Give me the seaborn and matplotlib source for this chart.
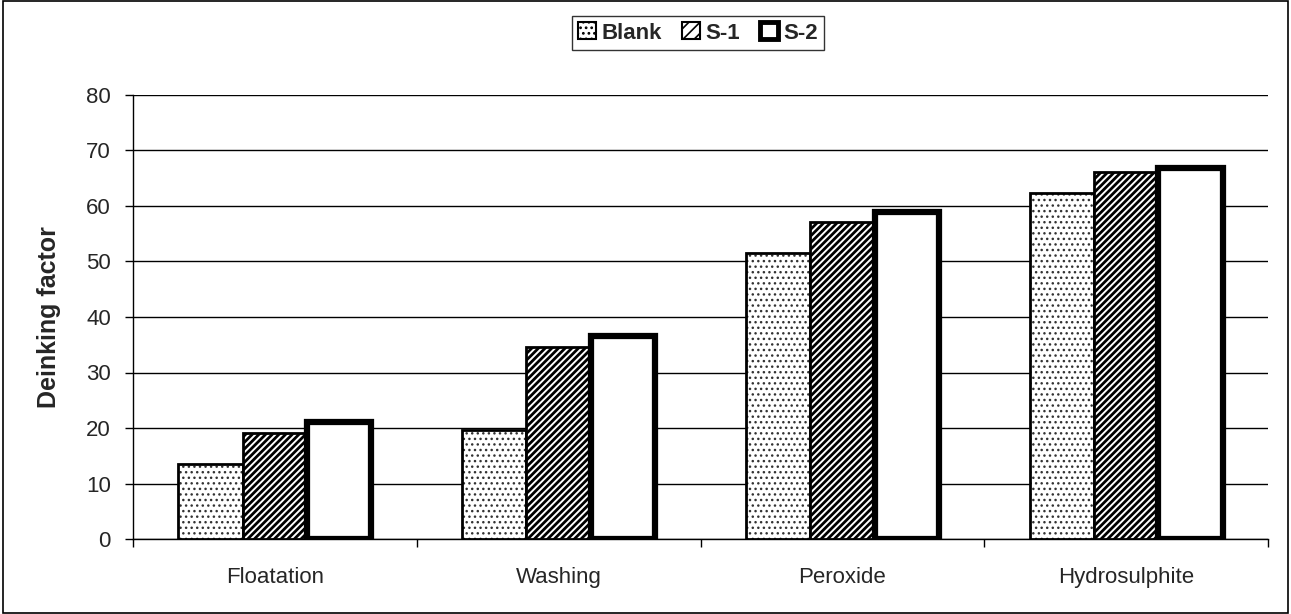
import matplotlib
matplotlib.use("Agg")
import matplotlib.pyplot as plt
import seaborn as sns
import pandas as pd
from matplotlib.patches import Rectangle

sns.set_theme(style="white")
plt.rcParams['font.family'] = ['Liberation Sans', 'DejaVu Sans']
plt.rcParams['hatch.linewidth'] = 2.0

stages = ["Floatation", "Washing", "Peroxide", "Hydrosulphite"]
series = ["Blank", "S-1", "S-2"]
blank = [13.5, 19.6, 51.5, 62.3]
s1 = [19.1, 34.6, 57.1, 66.1]
s2 = [21.1, 36.6, 58.9, 66.8]

df = pd.DataFrame({
    "stage": stages * 3,
    "series": [s for s in series for _ in stages],
    "value": blank + s1 + s2,
})

fig = plt.figure(figsize=(12.91, 6.14), dpi=100)
ax = fig.add_axes([133 / 1291, 1 - 539 / 614, (1268 - 133) / 1291, (539 - 95) / 614])

sns.barplot(data=df, x="stage", y="value", hue="series", order=stages,
            hue_order=series, palette=["white"] * 3, width=0.68, gap=0,
            edgecolor="black", linewidth=2, ax=ax, legend=False, zorder=3)

styles = {
    "Blank": dict(hatch="...", lw=2.0, hatch_color=(0.2, 0.2, 0.2, 1.0), hlw=1.0),
    "S-1": dict(hatch="/////", lw=2.0, hatch_color=(0, 0, 0, 1.0), hlw=2.0),
    "S-2": dict(hatch="", lw=4.5, hatch_color=(0, 0, 0, 1.0), hlw=1.0),
}
for container, name in zip(ax.containers, series):
    st = styles[name]
    for bar in container:
        bar.set_facecolor("white")
        bar.set_edgecolor("black")
        bar.set_hatch(st["hatch"])
        bar.set_linewidth(st["lw"])
        bar._hatch_color = st["hatch_color"]
        if hasattr(bar, "set_hatch_linewidth"):
            bar.set_hatch_linewidth(st["hlw"])

ax.set_ylim(0, 80)
ax.set_xlim(-0.5, 3.5)
ax.set_yticks(range(0, 81, 10))
ax.yaxis.grid(True, color="black", linewidth=1.0, zorder=0)
ax.set_axisbelow(True)
for side in ("top", "right"):
    ax.spines[side].set_visible(False)
for side in ("left", "bottom"):
    ax.spines[side].set_color("black")
    ax.spines[side].set_linewidth(1.0)

ax.set_xticks([-0.5, 0.5, 1.5, 2.5, 3.5], minor=False)
ax.set_xticklabels([])
ax.set_xticks(range(4), minor=True)
ax.set_xticklabels(stages, minor=True, fontsize=16)
ax.tick_params(axis="x", which="major", direction="out", length=6, width=1, color="black", bottom=True)
ax.tick_params(axis="x", which="minor", length=0, pad=20)
ax.tick_params(axis="y", direction="out", length=6, width=1, color="black", left=True, labelsize=16, pad=10)

ax.set_xlabel("")
ax.set_ylabel("Deinking factor", fontsize=18, fontweight="bold", labelpad=18)

legend_hatch = {"Blank": "...", "S-1": "///", "S-2": ""}
handles = []
for n in series:
    h = Rectangle((0, 0), 1, 1, facecolor="white", edgecolor="black",
                  hatch=legend_hatch[n], linewidth=1.5 if n != "S-2" else 3.5)
    handles.append(h)
leg = fig.legend(handles, series, loc="center", bbox_to_anchor=(698 / 1291, 1 - 33 / 614),
                 ncol=3, frameon=True, fancybox=False, edgecolor="black",
                 prop={"weight": "bold", "size": 16}, handlelength=0.8, handleheight=0.8,
                 handletextpad=0.25, columnspacing=0.9, borderpad=0.3, borderaxespad=0)
leg.get_frame().set_linewidth(1.0)
for h in leg.legend_handles:
    if hasattr(h, "set_hatch_linewidth"):
        h.set_hatch_linewidth(1.2)

fig.patches.append(Rectangle((0.002, 0.002), 0.996, 0.996, transform=fig.transFigure,
                             fill=False, edgecolor="black", linewidth=1.2))

fig.savefig("out.png", dpi=100, facecolor="white")
